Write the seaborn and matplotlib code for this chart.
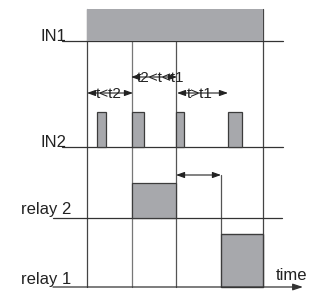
import matplotlib
matplotlib.use("Agg")
import matplotlib.pyplot as plt
import seaborn as sns
import pandas as pd
from matplotlib.patches import Rectangle

sns.set_style("white")
plt.rcParams['font.family'] = ['Liberation Sans', 'DejaVu Sans']

# ---- data (time positions of signal edges) ----
signals = ["IN1", "IN2", "relay 2", "relay 1"]
in1_on, in1_off = 87, 263
in2_starts = [97, 132, 176, 228]
in2_ends = [106, 144, 184, 242]
relay2_on, relay2_off = 132, 176
relay1_on, relay1_off = 221, 263
event_times = [87, 132, 176, 263]
interval_labels = ["t<t2", "t2<t<t1", "t>t1"]
axis_label = "time"

# row baselines / heights (layout)
base = {"IN1": 41, "IN2": 147, "relay 2": 218, "relay 1": 287}
line_start = {"IN1": 62, "IN2": 62, "relay 2": 53, "relay 1": 53}
line_end = {"IN1": 283, "IN2": 283, "relay 2": 282, "relay 1": 303}
label_x = {"IN1": 66, "IN2": 66, "relay 2": 71, "relay 1": 71}
label_y = {"IN1": 41, "IN2": 147, "relay 2": 214, "relay 1": 284}

fill = "#a7a8ac"
edge = "#3c3c3c"

fig = plt.figure(figsize=(3.2, 2.92), dpi=100)
ax = fig.add_axes([0, 0, 1, 1])
ax.set_xlim(0, 320)
ax.set_ylim(292, 0)
ax.axis("off")

# baselines via seaborn
for s in signals[:3]:
    df = pd.DataFrame({"x": [line_start[s], line_end[s]], "y": [base[s], base[s]]})
    sns.lineplot(data=df, x="x", y="y", ax=ax, color="#333333", lw=0.9, sort=False)

# time axis arrow
ax.annotate("", xy=(line_end["relay 1"], base["relay 1"]),
            xytext=(line_start["relay 1"], base["relay 1"]),
            arrowprops=dict(arrowstyle="-|>,head_length=0.6,head_width=0.2",
                            color="#333333", lw=0.9, shrinkA=0, shrinkB=0))

# vertical event lines
vcolors = ["#444444", "#777777", "#555555", "#444444"]
vtops = [9, 41, 41, 9]
for t, c, top in zip(event_times, vcolors, vtops):
    ax.plot([t, t], [top, base["relay 1"]], color=c, lw=0.9, zorder=1)

# IN1 block
ax.add_patch(Rectangle((in1_on, 9), in1_off - in1_on, base["IN1"] - 9,
                       facecolor=fill, edgecolor="none", zorder=2))
# IN2 pulses
for s0, s1 in zip(in2_starts, in2_ends):
    ax.add_patch(Rectangle((s0, 112), s1 - s0, base["IN2"] - 112,
                           facecolor=fill, edgecolor=edge, lw=0.9, zorder=2))
# relay 2
ax.add_patch(Rectangle((relay2_on, 183), relay2_off - relay2_on, base["relay 2"] - 183,
                       facecolor=fill, edgecolor=edge, lw=0.9, zorder=2))
# relay 1
ax.add_patch(Rectangle((relay1_on, 234), relay1_off - relay1_on, base["relay 1"] - 234,
                       facecolor=fill, edgecolor=edge, lw=1.0, zorder=2))
ax.plot([relay1_on, relay1_on], [175, 234], color="#555555", lw=0.9, zorder=1)

# labels
for s in signals:
    ax.text(label_x[s], label_y[s], s, ha="right", va="baseline",
            fontsize=12, color="#222222")
ax.text(276, 280, axis_label, ha="left", va="baseline", fontsize=12, color="#222222")

# interval arrows
arrow_kw = dict(arrowstyle="<|-|>,head_length=0.5,head_width=0.18",
                color="#222222", lw=0.8, shrinkA=0, shrinkB=0)
spans = [(87, 133, 93), (131, 177, 77), (177, 228, 93)]
for (x0, x1, y), lab in zip(spans, interval_labels):
    ax.annotate("", xy=(x1, y), xytext=(x0, y), arrowprops=arrow_kw)
text_pos = [(109, 97.5), (161, 81.5), (200, 97.5)]
for (tx, ty), lab in zip(text_pos, interval_labels):
    ax.text(tx, ty, lab, ha="center", va="baseline", fontsize=11, color="#222222")

# delay arrow
ax.annotate("", xy=(relay1_on, 175), xytext=(relay2_off, 175), arrowprops=arrow_kw)

fig.savefig("out.png", dpi=100)
